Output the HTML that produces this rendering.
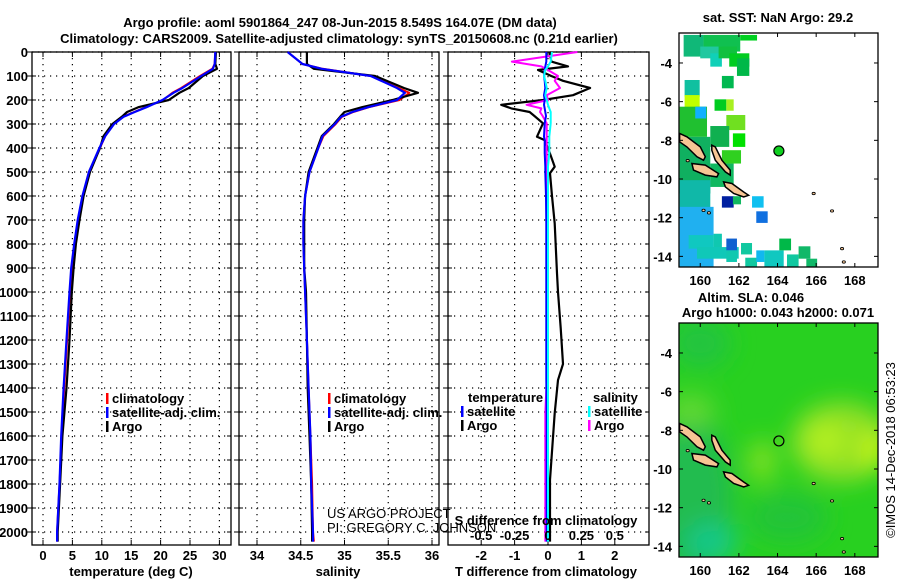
<!DOCTYPE html>
<html><head><meta charset="utf-8"><style>
body{margin:0;background:#fff;}
svg{display:block;font-family:"Liberation Sans",sans-serif;}
.b{font-weight:bold;font-size:13px;}
.n{font-weight:normal;font-size:13px;}
</style></head><body>
<svg id="c" width="900" height="580" viewBox="0 0 900 580" xmlns="http://www.w3.org/2000/svg"></svg>
<script>
// ---------- data ----------
const depths = [0,50,70,100,150,170,200,230,250,270,300,350,400,500,600,700,800,900,1000,1200,1400,1600,1800,2000,2040];
const tClim  = [29.3,29.2,28.8,26.7,23.5,22.0,20.4,17.5,15.5,13.6,12.0,10.6,9.7,7.8,6.8,6.0,5.4,4.9,4.6,4.1,3.6,3.2,2.8,2.4,2.4];
const tSat   = [29.3,29.2,28.9,26.9,23.7,22.2,20.3,17.6,15.6,13.7,12.1,10.6,9.6,7.8,6.7,5.9,5.3,4.8,4.5,4.0,3.5,3.1,2.8,2.4,2.4];
const tArgo  = [29.4,29.3,29.6,27.2,24.8,23.2,21.4,16.2,14.3,13.4,11.8,10.3,9.7,8.0,6.9,6.2,5.6,5.2,4.9,4.5,4.0,3.3,2.9,2.5,2.5];
const sClim  = [34.35,34.52,34.75,35.30,35.62,35.74,35.63,35.28,35.10,34.97,34.90,34.76,34.70,34.60,34.55,34.53,34.53,34.54,34.55,34.57,34.59,34.61,34.63,34.64,34.65];
const sSat   = [34.35,34.52,34.74,35.30,35.60,35.69,35.60,35.27,35.09,34.96,34.89,34.75,34.70,34.60,34.55,34.53,34.53,34.54,34.55,34.57,34.59,34.61,34.62,34.64,34.64];
const sArgo  = [34.57,34.57,34.65,35.35,35.68,35.84,35.55,35.20,35.00,34.95,34.88,34.74,34.69,34.59,34.55,34.54,34.54,34.54,34.56,34.57,34.58,34.60,34.62,34.63,34.63];
const dDepths= [0,40,60,75,100,120,150,180,200,220,235,250,267,297,353,367,420,478,505,600,714,922,1000,1150,1300,1367,1505,1783,1990,2040];
const dTArgo = [0.05,0.1,0.6,-0.3,0.1,0.45,1.26,0.75,-0.15,-1.4,-1.1,-0.55,-0.4,-0.15,-0.33,-0.1,0.05,0.2,0.06,0.12,0.2,0.27,0.3,0.38,0.45,0.3,0.2,0.06,0.06,0.06];
const dTSat  = [-0.05,-0.05,-0.08,-0.1,-0.12,-0.1,-0.08,-0.12,-0.1,-0.12,-0.1,-0.08,-0.06,-0.1,-0.12,-0.1,-0.1,-0.08,-0.08,-0.06,-0.05,-0.05,-0.05,-0.05,-0.05,-0.05,-0.04,-0.04,-0.04,-0.04];
const dSArgo = [0.22,-0.27,-0.05,0.0,0.075,0.05,0.09,-0.01,0.0,-0.16,-0.05,-0.06,-0.04,-0.01,-0.01,-0.01,-0.01,-0.01,-0.01,-0.01,-0.01,-0.01,-0.01,-0.01,-0.01,-0.01,-0.02,-0.02,-0.02,-0.02];
const dSSat  = [0.03,0.02,0.0,-0.02,-0.03,-0.02,-0.01,-0.02,-0.01,0.0,0.01,0.02,0.02,0.02,0.01,0.01,0.01,0.0,0.0,0.0,0.0,0.0,0.0,0.0,0.0,0.0,0.0,0.0,0.0,0.0];
const depthTicks = [0,100,200,300,400,500,600,700,800,900,1000,1100,1200,1300,1400,1500,1600,1700,1800,1900,2000];
const tTicks = [0,5,10,15,20,25,30];
const sTicks = [34,34.5,35,35.5,36];
const dTTicks = [-2,-1,0,1,2];
const dSTicks = [-0.5,-0.25,0,0.25,0.5];
const lonTicks = [160,162,164,166,168];
const latTicks = [-4,-6,-8,-10,-12,-14];
const argoLon = 164.07, argoLat = -8.549;
// SST blocks: [lonMin, latTop, lonMax, latBottom, color]
const sstBlocks = [
[159.14,-2.55,160.17,-3.67,'#10b878'],[160.17,-2.55,162.07,-3.41,'#10c050'],[162.07,-2.55,162.94,-2.84,'#00d020'],
[160.0,-3.15,161.12,-3.76,'#20c8a0'],[160.52,-3.5,161.12,-4.19,'#10d0b8'],[160.95,-3.15,161.9,-3.76,'#10c040'],
[161.5,-3.5,162.54,-4.19,'#00cc20'],[161.9,-3.76,162.54,-4.67,'#00b848'],[161.12,-4.67,161.73,-5.31,'#00b850'],
[159.19,-4.88,159.97,-5.74,'#10c0a0'],[159.19,-5.66,159.97,-6.35,'#c0ff00'],[160.74,-5.88,161.35,-6.47,'#00cc20'],
[161.35,-5.88,161.73,-6.47,'#a8f020'],[158.93,-6.26,160.35,-7.82,'#20c030'],[159.74,-6.26,160.31,-6.87,'#10b0ff'],
[161.35,-6.69,162.33,-7.47,'#70e020'],[160.52,-7.26,161.5,-8.34,'#10b050'],[161.69,-7.64,162.33,-8.34,'#00e000'],
[158.93,-7.82,160.52,-10.75,'#10b060'],[161.12,-8.51,162.11,-9.2,'#30d020'],[160.52,-9.2,161.73,-10.41,'#10b860'],
[158.93,-10.06,160.52,-11.79,'#10b8a8'],[161.12,-10.89,161.73,-11.48,'#0020a0'],[161.69,-10.89,162.11,-11.31,'#10b860'],
[162.68,-10.89,163.28,-11.48,'#10c0f0'],[162.9,-11.67,163.49,-12.27,'#1070e0'],[158.93,-11.44,160.69,-14.55,'#20b0f0'],
[159.4,-12.9,160.69,-13.6,'#10c8c0'],[160.69,-12.83,161.12,-13.7,'#10c8b0'],[159.83,-13.52,161.99,-14.12,'#10c8b8'],
[161.35,-13.08,161.9,-13.69,'#1060d0'],[161.35,-13.69,161.9,-14.29,'#10c8b0'],[162.11,-13.31,162.68,-13.9,'#10c8a0'],
[162.33,-14.07,162.94,-14.55,'#10c8a0'],[162.9,-13.69,163.32,-14.29,'#10b8f0'],[163.32,-13.69,164.32,-14.55,'#10c8c0'],
[164.09,-13.08,164.7,-13.69,'#00b848'],[164.49,-13.9,165.09,-14.55,'#10c8a0'],[165.09,-13.48,165.7,-14.12,'#10b868'],
[165.49,-14.12,166.05,-14.55,'#10b868']
];
const islands = [
[[158.93,-7.64],[159.31,-7.82],[160.0,-8.34],[160.26,-8.85],[160.17,-9.03],[159.83,-8.85],[159.31,-8.34],[158.93,-8.08]],
[[160.6,-8.25],[160.78,-8.34],[161.12,-9.03],[161.55,-9.54],[161.55,-9.8],[161.3,-9.63],[160.78,-9.03],[160.6,-8.51]],
[[159.57,-9.2],[160.26,-9.28],[160.95,-9.72],[160.86,-9.89],[160.26,-9.8],[159.65,-9.54]],
[[161.21,-10.15],[161.64,-10.23],[162.25,-10.67],[162.5,-10.84],[162.25,-10.93],[161.73,-10.75],[161.3,-10.41]]
];
const smallIslands = [[160.17,-11.62],[160.45,-11.75],[165.87,-10.75],[166.82,-11.65],[167.43,-14.29],[167.34,-13.6],[159.35,-9.05]];

// ---------- helpers ----------
const svg = document.getElementById('c');
const NS = 'http://www.w3.org/2000/svg';
function el(tag, attrs, parent){const e=document.createElementNS(NS,tag);for(const k in attrs)e.setAttribute(k,attrs[k]);(parent||svg).appendChild(e);return e;}
function txt(x,y,s,anchor,cls,parent,extra){const t=el('text',Object.assign({x:x,y:y,'text-anchor':anchor||'middle','class':cls||'b'},extra||{}),parent);t.textContent=s;return t;}
const Y = d => 52 + d*0.24;
const Y0=52, Y1=545;

function panel(name,x0,x1,xs,xTicks,fmt){
  const g = el('g',{});
  
  
  xTicks.forEach(v=>{const x=xs(v);
    el('line',{x1:x,x2:x,y1:Y0,y2:Y1,stroke:'#000','stroke-dasharray':'1.2,4.8','stroke-width':1.2},g);
    el('line',{x1:x,x2:x,y1:Y0,y2:Y0+5,stroke:'#000'},g);el('line',{x1:x,x2:x,y1:Y1,y2:Y1-5,stroke:'#000'},g);
    if(fmt){const t=txt(x,560,fmt(v),'middle','b',g);}
  });
  depthTicks.forEach(d=>{const y=Y(d);
    el('line',{x1:x0,x2:x1,y1:y,y2:y,stroke:'#000','stroke-dasharray':'1.2,4.8','stroke-width':1.2},g);
    el('line',{x1:x0-5,x2:x0+4,y1:y,y2:y,stroke:'#000'},g);el('line',{x1:x1-4,x2:x1,y1:y,y2:y,stroke:'#000'},g);
  });
  el('rect',{x:x0,y:Y0,width:x1-x0,height:Y1-Y0,fill:'none',stroke:'#000','stroke-width':1.3},g);
  return g;
}
function line(g,xs,ys,xv,yv,color,w,name){
  const p=el('polyline',{points:xv.map((v,i)=>xs(v).toFixed(1)+','+ys(yv[i]).toFixed(1)).join(' '),fill:'none',stroke:color,'stroke-width':w||2,'stroke-linejoin':'round'},g);
  
  
  return p;
}
function legendEntry(g,x,y,color,label){
  const r=el('rect',{x:x,y:y-10,width:2.5,height:11,fill:color},g);
  
  
  const t=txt(x+6,y,label,'start','b',g);
  
  
}

// ---------- titles ----------
let t1=txt(340,27,'Argo profile: aoml 5901864_247 08-Jun-2015 8.549S 164.07E (DM data)','middle','b');
t1.setAttribute('font-size','14');
let t2=txt(339,43,'Climatology: CARS2009. Satellite-adjusted climatology: synTS_20150608.nc (0.21d earlier)','middle','b');
t2.setAttribute('font-size','14');

depthTicks.forEach(d=>{const t=txt(28,Y(d)+5,String(d),'end','b');});

// ---------- panel 1: temperature ----------
const xT = v => 43 + v*5.88;
const p1 = panel('temperature-panel',32,231,xT,tTicks,v=>String(v));
line(p1,xT,Y,tClim,depths,'#f00',2,'climatology-temperature-line');
line(p1,xT,Y,tArgo,depths,'#000',2.2,'argo-temperature-line');
line(p1,xT,Y,tSat,depths,'#00f',2.2,'satellite-temperature-line');
legendEntry(p1,106,403,'#f00','climatology');
legendEntry(p1,106,417,'#00f','satellite-adj. clim.');
legendEntry(p1,106,431,'#000','Argo');
let a1=txt(131,576,'temperature (deg C)','middle','b');

// ---------- panel 2: salinity ----------
const xS = v => 257 + (v-34)*87.5;
const p2 = panel('salinity-panel',239,439,xS,sTicks,v=>String(v));
line(p2,xS,Y,sClim,depths,'#f00',2,'climatology-salinity-line');
line(p2,xS,Y,sArgo,depths,'#000',2.2,'argo-salinity-line');
line(p2,xS,Y,sSat,depths,'#00f',2.2,'satellite-salinity-line');
legendEntry(p2,328,403,'#f00','climatology');
legendEntry(p2,328,417,'#00f','satellite-adj. clim.');
legendEntry(p2,328,431,'#000','Argo');
let a2=txt(338,576,'salinity','middle','b');
let c1=txt(327,518,'US ARGO PROJECT','start','n');
let c2=txt(327,532,'PI: GREGORY C. JOHNSON','start','n');

// ---------- panel 3: differences ----------
const xD = v => 548 + v*33.4;
const xDS = v => 548 + v*133.6;
const p3 = panel('difference-panel',448,649,xD,dTTicks,v=>String(v));
line(p3,xD,Y,dTArgo,dDepths,'#000',2.2,'argo-t-difference-line');
line(p3,xDS,Y,dSArgo,dDepths,'#f0f',2,'argo-s-difference-line');
line(p3,xD,Y,dTSat,dDepths,'#00f',2,'satellite-t-difference-line');
line(p3,xDS,Y,dSSat,dDepths,'#0ff',2,'satellite-s-difference-line');
dSTicks.forEach(v=>{const t=txt(xDS(v),540,String(v),'middle','b',p3);});
let sd=txt(546,525,'S difference from climatology','middle','b',p3);
let a3=txt(546,576,'T difference from climatology','middle','b');
let lt=txt(468,402,'temperature','start','b',p3);
legendEntry(p3,461,416,'#00f','satellite');
legendEntry(p3,461,430,'#000','Argo');
let ls=txt(593,402,'salinity','start','b',p3);
legendEntry(p3,588,416,'#0ff','satellite');
legendEntry(p3,588,430,'#f0f','Argo');

// ---------- maps ----------
const LON0=158.9, LON1=169.2, LAT0=-2.45, LAT1=-14.55;
function makeMap(name,top){
  const g=el('g',{});
  
  
  const x0=679,x1=878,y0=top,y1=top+234;
  const mx=lon=>x0+(lon-LON0)/(LON1-LON0)*(x1-x0);
  const my=lat=>y0+(LAT0-lat)/(LAT0-LAT1)*(y1-y0);
  return {g,x0,x1,y0,y1,mx,my};
}
function mapFrame(m){
  const {g,x0,x1,y0,y1,mx,my}=m;
  islands.forEach(poly=>{const p=el('polygon',{points:poly.map(q=>mx(q[0]).toFixed(1)+','+my(q[1]).toFixed(1)).join(' '),fill:'#f6c594',stroke:'#000','stroke-width':1.5},g);});
  smallIslands.forEach(q=>{const c=el('ellipse',{cx:mx(q[0]),cy:my(q[1]),rx:1.6,ry:1.2,fill:'#f6c594',stroke:'#000','stroke-width':0.8},g);});
  el('rect',{x:x0,y:y0,width:x1-x0,height:y1-y0,fill:'none',stroke:'#000','stroke-width':1.3},g);
  lonTicks.forEach(v=>{const x=mx(v);el('line',{x1:x,x2:x,y1:y0,y2:y0+4,stroke:'#000'},g);el('line',{x1:x,x2:x,y1:y1,y2:y1-4,stroke:'#000'},g);
    const t=txt(x,y1+18,String(v),'middle','b',g);});
  latTicks.forEach(v=>{const y=my(v);el('line',{x1:x0,x2:x0+4,y1:y,y2:y,stroke:'#000'},g);el('line',{x1:x1-4,x2:x1,y1:y,y2:y,stroke:'#000'},g);
    const t=txt(672,y+5,String(v),'end','b',g);});
}
// SST map
const m1=makeMap('sst-map',33);
el('rect',{x:m1.x0,y:m1.y0,width:m1.x1-m1.x0,height:m1.y1-m1.y0,fill:'#fff'},m1.g);
sstBlocks.forEach(b=>{const r=el('rect',{x:m1.mx(b[0]),y:m1.my(b[1]),width:m1.mx(b[2])-m1.mx(b[0]),height:m1.my(b[3])-m1.my(b[1]),fill:b[4]},m1.g);
  });
mapFrame(m1);
let am=el('circle',{cx:m1.mx(argoLon),cy:m1.my(argoLat),r:5,fill:'#10d020',stroke:'#000','stroke-width':1.2},m1.g);

let mt1=txt(778,22,'sat. SST: NaN Argo: 29.2','middle','b');

// SLA map
const m2=makeMap('sla-map',323);
const defs=el('defs',{});
const cp=el('clipPath',{id:'clip2'},defs);el('rect',{x:m2.x0,y:m2.y0,width:m2.x1-m2.x0,height:m2.y1-m2.y0},cp);
const fl=el('filter',{id:'blur',x:'-50%',y:'-50%',width:'200%',height:'200%'},defs);el('feGaussianBlur',{stdDeviation:12},fl);
const fg=el('g',{'clip-path':'url(#clip2)'},m2.g);


el('rect',{x:m2.x0,y:m2.y0,width:m2.x1-m2.x0,height:m2.y1-m2.y0,fill:'#28d020'},fg);
const bg=el('g',{filter:'url(#blur)'},fg);
el('ellipse',{cx:m2.mx(159.6),cy:m2.my(-11.5),rx:40,ry:80,fill:'#20bc50'},bg);
el('ellipse',{cx:m2.mx(160.6),cy:m2.my(-13.8),rx:26,ry:20,fill:'#14c888'},bg);
el('ellipse',{cx:m2.mx(160.0),cy:m2.my(-3.5),rx:30,ry:25,fill:'#20c440'},bg);
el('ellipse',{cx:m2.mx(159.5),cy:m2.my(-7),rx:25,ry:18,fill:'#60d830'},bg);
el('ellipse',{cx:m2.mx(167.3),cy:m2.my(-8.6),rx:50,ry:40,fill:'#90e028'},bg);
el('ellipse',{cx:m2.mx(166.5),cy:m2.my(-8.5),rx:20,ry:18,fill:'#b4f020'},bg);
el('ellipse',{cx:m2.mx(169),cy:m2.my(-9),rx:14,ry:20,fill:'#c4f414'},bg);
el('ellipse',{cx:m2.mx(163.2),cy:m2.my(-9.6),rx:14,ry:22,fill:'#80e020'},bg);
el('ellipse',{cx:m2.mx(164.5),cy:m2.my(-12.5),rx:40,ry:25,fill:'#20c438'},bg);
mapFrame(m2);
let am2=el('circle',{cx:m2.mx(argoLon),cy:m2.my(argoLat),r:5,fill:'none',stroke:'#000','stroke-width':1.2},m2.g);

let mt2=txt(751,302,'Altim. SLA: 0.046','middle','b');
let mt3=txt(778,317,'Argo h1000: 0.043 h2000: 0.071','middle','b');
let cr=txt(0,0,'\u00A9IMOS 14-Dec-2018 06:53:23','middle','n',null,{transform:'translate(895,450) rotate(-90)'});

</script>
</body></html>
